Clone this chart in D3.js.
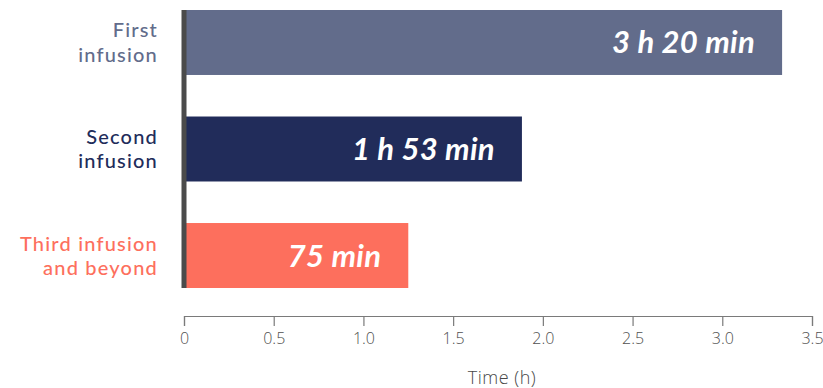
<!DOCTYPE html>
<html>
<head>
<meta charset="utf-8">
<script src="https://cdn.jsdelivr.net/npm/d3@7"></script>
<style>
  html, body { margin: 0; padding: 0; background: #ffffff; }
  svg { display: block; }
</style>
</head>
<body>
<svg id="chart" width="823" height="388"></svg>
<script>
// Infusion durations, in hours
const categories = ["First infusion", "Second infusion", "Third infusion and beyond"];
const labelLines = [["First", "infusion"], ["Second", "infusion"], ["Third infusion", "and beyond"]];
const durations = [200 / 60, 113 / 60, 75 / 60];
const valueLabels = ["3 h 20 min", "1 h 53 min", "75 min"];
const colors = ["#626c8b", "#212c5a", "#fd6f5d"];
const tickValues = [0, 0.5, 1.0, 1.5, 2.0, 2.5, 3.0, 3.5];
const tickLabels = ["0", "0.5", "1.0", "1.5", "2.0", "2.5", "3.0", "3.5"];
const axisTitle = "Time (h)";

const svg = d3.select("#chart");
const font = "Lato, 'Open Sans', sans-serif";
const axisFont = "'Open Sans', Lato, sans-serif";

const x = d3.scaleLinear().domain([0, 3.5]).range([184, 812]);
const y = d3.scaleBand().domain(categories).range([10, 288]).paddingInner(0.39).paddingOuter(0);

// Bars
svg.append("g").selectAll("rect")
  .data(categories)
  .join("rect")
  .attr("x", x(0))
  .attr("y", d => y(d))
  .attr("width", (d, i) => x(durations[i]) - x(0))
  .attr("height", y.bandwidth())
  .attr("fill", (d, i) => colors[i]);

// Value labels inside bars
svg.append("g").selectAll("text")
  .data(categories)
  .join("text")
  .attr("x", (d, i) => x(durations[i]) - 27)
  .attr("y", d => y(d) + y.bandwidth() / 2 + 11)
  .attr("text-anchor", "end")
  .attr("fill", "#ffffff")
  .style("font-family", font)
  .style("font-size", "31px")
  .style("font-weight", "700")
  .style("font-style", "italic")
  .style("letter-spacing", "0.3px")
  .text((d, i) => valueLabels[i]);

// Category labels, one text element per line
const catGroup = svg.append("g");
categories.forEach((d, i) => {
  const c = y(d) + y.bandwidth() / 2;
  catGroup.selectAll(null)
    .data(labelLines[i])
    .join("text")
    .attr("x", 158)
    .attr("y", (t, j) => c - 5 + j * 24.2)
    .attr("text-anchor", "end")
    .attr("fill", colors[i])
    .style("font-family", font)
    .style("font-size", "20px")
    .style("font-weight", "500")
    .style("letter-spacing", "1.2px")
    .text(t => t);
});

// Baseline at zero
svg.append("line")
  .attr("x1", x(0)).attr("x2", x(0))
  .attr("y1", y(categories[0]))
  .attr("y2", y(categories[2]) + y.bandwidth())
  .attr("stroke", "#4b4b4b")
  .attr("stroke-width", 5);

// Bottom axis
const axis = d3.axisBottom(x)
  .tickValues(tickValues)
  .tickFormat((d, i) => tickLabels[i])
  .tickSizeInner(10)
  .tickSizeOuter(10)
  .tickPadding(7);

const gAxis = svg.append("g")
  .attr("transform", "translate(0,316)")
  .call(axis);
gAxis.select(".domain").attr("stroke", "#7a7a7a").attr("stroke-width", 1.2);
gAxis.selectAll(".tick line").attr("stroke", "#7a7a7a").attr("stroke-width", 1.2);
gAxis.selectAll(".tick text")
  .attr("fill", "#505050")
  .style("font-family", axisFont)
  .style("font-size", "16px")
  .style("font-weight", "300");

// Axis title
svg.append("text")
  .attr("x", 502)
  .attr("y", 384)
  .attr("text-anchor", "middle")
  .attr("fill", "#484848")
  .style("font-family", axisFont)
  .style("font-size", "18px")
  .style("font-weight", "300")
  .style("letter-spacing", "0.5px")
  .text(axisTitle);
</script>
</body>
</html>
